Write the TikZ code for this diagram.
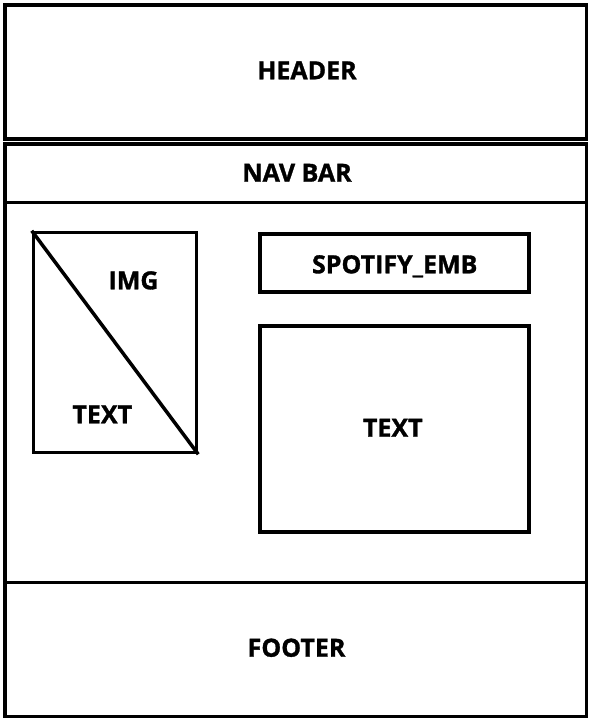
\documentclass[tikz,border=0pt]{standalone}
\usepackage{fontspec}
\setmainfont{Open Sans}[BoldFeatures={FakeBold=1.2}]
\begin{document}
\begin{tikzpicture}[x=1pt,y=-1pt,
  box/.style={draw=black,line width=3.5pt,inner sep=0pt,rectangle},
  ln/.style={line width=3.5pt},
  lbl/.style={font=\fontsize{25}{29}\selectfont\bfseries,inner sep=0pt,anchor=base}]
\useasboundingbox (0,0) rectangle (594,725);
\node[box,minimum width=581.5pt,minimum height=134pt] (header) at (295.75,72) {};
\node[box,minimum width=581.5pt,minimum height=572.5pt] (body) at (295.75,430.25) {};
\coordinate (navline) at (0,202.5);
\coordinate (footline) at (0,582.5);
\draw[ln] (body.west |- navline) -- (body.east |- navline);
\draw[ln] (body.west |- footline) -- (body.east |- footline);
\node[box,minimum width=163pt,minimum height=220pt] (img) at (115,342.5) {};
\draw[ln] (img.north west) -- (img.south east);
\node[box,minimum width=269pt,minimum height=58pt] (spot) at (394.5,263) {};
\node[box,minimum width=269pt,minimum height=206pt] (textbox) at (394.5,429) {};
\node[lbl] (th) at (307,79.3) {HEADER};
\node[lbl] (tn) at (297,181.7) {NAV BAR};
\node[lbl] (ti) at (133.5,289.3) {IMG};
\node[lbl] (tl) at (102.3,423.3) {TEXT};
\node[lbl] (ts) at (394.7,273.3) {SPOTIFY\_EMB};
\node[lbl] (tr) at (392.8,436.7) {TEXT};
\node[lbl] (tf) at (296.5,656.7) {FOOTER};
\end{tikzpicture}
\end{document}
